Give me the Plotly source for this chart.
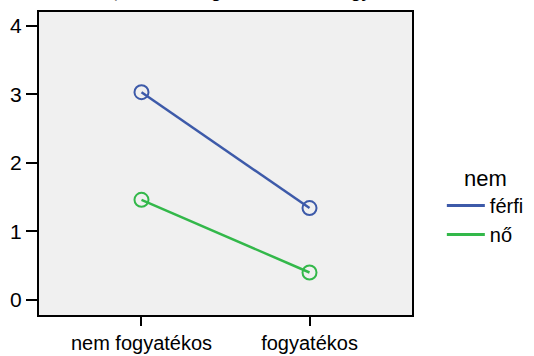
import plotly.graph_objects as go

# Group means by disability status, split by sex
categories = ["nem fogyatékos", "fogyatékos"]
ferfi_means = [3.03, 1.34]
no_means = [1.46, 0.40]
y_ticks = [0, 1, 2, 3, 4]

series = [("férfi", ferfi_means, "#3d5aa9"), ("nő", no_means, "#33b84a")]

FONT = "Liberation Sans, Arial, sans-serif"

fig = go.Figure()
for name, vals, col in series:
    fig.add_trace(go.Scatter(
        x=categories, y=vals, mode="lines+markers", name=name,
        line=dict(color=col, width=2.5),
        marker=dict(symbol="circle-open", size=14, color=col, line=dict(width=2)),
        showlegend=False, hoverinfo="skip",
    ))
# legend entries drawn as plain lines
for name, vals, col in series:
    fig.add_trace(go.Scatter(
        x=[None], y=[None], mode="lines", name=name,
        line=dict(color=col, width=3),
    ))

fig.update_layout(
    width=534, height=356,
    margin=dict(l=39, r=122, t=12, b=41, autoexpand=False),
    paper_bgcolor="white", plot_bgcolor="#f0f0f0",
    font=dict(family=FONT, color="black", size=21),
    legend=dict(
        title=dict(text="nem", font=dict(size=22), side="top center"),
        x=1.08, y=0.36, xanchor="left", yanchor="middle",
        font=dict(size=20), tracegroupgap=0, itemwidth=38,
        bgcolor="rgba(0,0,0,0)",
    ),
    annotations=[dict(
        text="<b>Elért kreditek, nem és diagnózis szerint: fogyatékos</b>",
        xref="paper", yref="paper", x=-0.095, y=1, xanchor="left", yanchor="bottom",
        yshift=8, showarrow=False, font=dict(size=17, family=FONT),
    )],
)
fig.update_xaxes(
    type="category", range=[-0.61, 1.61], automargin=False,
    showline=True, linecolor="black", linewidth=2, mirror=True,
    ticks="outside", ticklen=9, tickwidth=2, tickcolor="black",
    tickfont=dict(size=20),
    showgrid=False, zeroline=False, fixedrange=True,
)
fig.update_yaxes(
    range=[-0.22, 4.2], tickvals=y_ticks, automargin=False,
    showline=True, linecolor="black", linewidth=2, mirror=True,
    ticks="outside", ticklen=11, tickwidth=2, tickcolor="black",
    showgrid=False, zeroline=False, fixedrange=True,
)

fig.write_html("out.html")
